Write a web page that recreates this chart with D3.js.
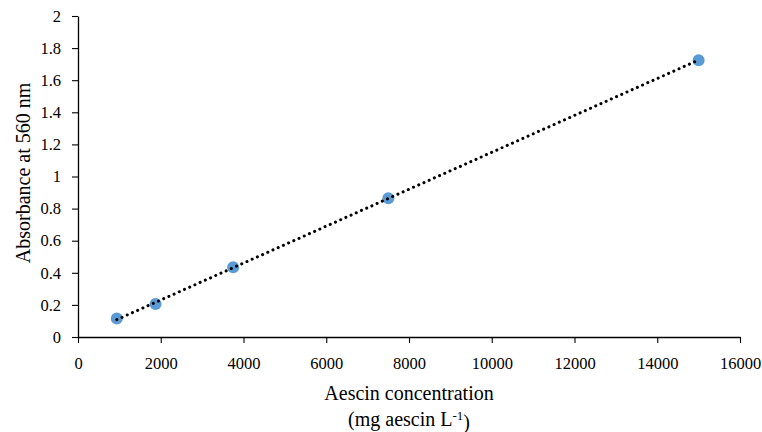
<!DOCTYPE html>
<html>
<head>
<meta charset="utf-8">
<script src="https://cdn.jsdelivr.net/npm/d3@7"></script>
<style>
  body{margin:0;background:#fff}
  svg text{font-family:"Liberation Serif","DejaVu Serif",serif;fill:#000}
</style>
</head>
<body>
<svg id="chart" width="762" height="432"></svg>
<script>
// standard curve data
const conc=[937.5,1875,3750,7500,15000]
const absorb=[0.115,0.205,0.435,0.865,1.725]
const errs=[0.006,0.008,0.008,0.01,0.02]
const xTicks=[0,2000,4000,6000,8000,10000,12000,14000,16000]
const yTicks=[0,0.2,0.4,0.6,0.8,1,1.2,1.4,1.6,1.8,2]

const svg=d3.select("#chart")
const x=d3.scaleLinear().domain([0,16000]).range([78,740])
const y=d3.scaleLinear().domain([0,2]).range([337,16])

const xaxis=d3.axisBottom(x).tickValues(xTicks).tickSize(6).tickSizeOuter(0).tickFormat(d=>d)
const gx=svg.append("g").attr("transform","translate(0,337)").call(xaxis)
gx.selectAll("text").attr("y",20).attr("dy","0.71em").style("font-size","16.5px")
gx.select(".domain").attr("stroke-width",1.3)
gx.selectAll(".tick line").attr("stroke-width",1.1)

const yaxis=d3.axisLeft(y).tickValues(yTicks).tickSize(6).tickSizeOuter(0).tickFormat(d=>d)
const gy=svg.append("g").attr("transform","translate(78,0)").call(yaxis)
gy.selectAll("text").attr("x",-17).style("font-size","16.5px")
gy.select(".domain").attr("stroke-width",1.3)
gy.selectAll(".tick line").attr("stroke-width",1.1)

// linear trend line (least squares)
const mx=d3.mean(conc),my=d3.mean(absorb)
const slope=d3.sum(conc,(c,i)=>(c-mx)*(absorb[i]-my))/d3.sum(conc,c=>(c-mx)*(c-mx))
const icpt=my-slope*mx
const ends=[d3.min(conc),d3.max(conc)]

// error bars
conc.forEach((c,i)=>{
  const g=svg.append("g").attr("stroke","#333").attr("stroke-width",1)
  g.append("line").attr("x1",x(c)).attr("x2",x(c)).attr("y1",y(absorb[i]-errs[i])).attr("y2",y(absorb[i]+errs[i]))
  ;[-1,1].forEach(s=>g.append("line").attr("x1",x(c)-4).attr("x2",x(c)+4)
      .attr("y1",y(absorb[i]+s*errs[i])).attr("y2",y(absorb[i]+s*errs[i])))
})

svg.selectAll("circle.dot")
  .data(conc)
  .enter()
  .append("circle")
  .attr("class","dot")
  .attr("cx",d=>x(d))
  .attr("cy",(d,i)=>y(absorb[i]))
  .attr("r",6)
  .attr("fill","#5B9BD5")

svg.append("line")
  .attr("x1",x(ends[0])).attr("y1",y(icpt+slope*ends[0]))
  .attr("x2",x(ends[1])).attr("y2",y(icpt+slope*ends[1]))
  .attr("stroke","#000")
  .attr("stroke-width",3)
  .attr("stroke-linecap","round")
  .attr("stroke-dasharray","0.1 5.6")

svg.append("text")
  .attr("transform","translate(30,173) rotate(-90)")
  .attr("text-anchor","middle")
  .style("font-size","20px")
  .text("Absorbance at 560 nm")

svg.append("text")
  .attr("x",409).attr("y",400)
  .attr("text-anchor","middle")
  .style("font-size","20px")
  .text("Aescin concentration")

const t2=svg.append("text")
  .attr("x",409).attr("y",426)
  .attr("text-anchor","middle")
  .style("font-size","20px")
t2.append("tspan").text("(mg aescin L")
t2.append("tspan").attr("dy","-0.45em").style("font-size","13px").text("-1")
t2.append("tspan").attr("dy","0.45em").text(")")
</script>
</body>
</html>
